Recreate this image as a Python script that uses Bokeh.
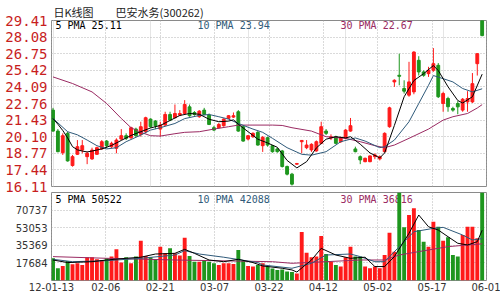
from bokeh.plotting import figure
from bokeh.models import (Range1d, FixedTicker, Label, ColumnDataSource, Grid,
                          CustomJSTickFormatter, PrintfTickFormatter)
from bokeh.layouts import column
from bokeh.embed import file_html
from bokeh.resources import INLINE

# ---------------- data ----------------
opens = [22.23, 20.55, 18.82, 20.37, 17.79, 18.69, 19.03, 18.50, 18.32, 18.69,
         19.12, 19.75, 19.30, 19.17, 19.91, 20.18, 20.02, 20.71, 20.29, 20.50,
         21.51, 21.35, 20.71, 21.03, 21.88, 21.62, 21.83, 21.96, 22.49, 22.04,
         21.70, 22.23, 21.83, 20.82, 20.82, 20.98, 21.57, 21.67, 22.10, 20.90,
         19.91, 20.10, 20.45, 19.38, 20.02, 19.38, 19.12, 18.96, 17.71, 17.10,
         17.90, 19.70, 19.22, 19.04, 18.96, 19.57, 20.55, 19.99, 20.10, 19.70,
         19.99, 20.55, 19.12, 18.50, 18.10, 18.10, 18.50, 18.32, 18.90, 20.90,
         24.49, 25.02, 23.96, 23.43, 23.69, 26.22, 25.29, 25.15, 25.42, 25.82,
         22.76, 23.16, 22.36, 22.76, 22.23, 22.89, 22.89, 25.95, 29.41]
closes = [20.55, 18.90, 20.18, 18.16, 18.50, 19.30, 19.38, 18.77, 19.03, 19.22,
          19.70, 19.38, 19.57, 19.83, 20.18, 19.97, 20.82, 20.18, 20.90, 21.62,
          20.90, 20.97, 21.03, 21.88, 21.43, 21.96, 21.96, 22.68, 21.78, 21.88,
          22.15, 21.88, 21.08, 20.63, 21.08, 21.51, 21.78, 21.78, 20.55, 19.75,
          20.18, 20.37, 19.43, 20.05, 19.43, 18.90, 18.90, 17.71, 17.10, 16.30,
          17.95, 19.80, 19.43, 19.49, 19.70, 20.90, 20.37, 20.10, 19.57, 20.02,
          20.63, 20.98, 18.90, 18.24, 18.37, 18.56, 18.64, 18.50, 20.37, 22.41,
          24.62, 24.94, 23.75, 24.49, 26.88, 25.29, 25.02, 25.42, 25.95, 23.30,
          23.56, 22.50, 22.23, 22.49, 23.10, 23.16, 24.35, 26.75, 28.20]
highs = [22.41, 20.71, 20.37, 20.50, 18.64, 19.83, 19.83, 18.90, 19.22, 19.30,
         19.83, 19.83, 19.70, 19.97, 20.71, 20.37, 20.90, 20.82, 21.30, 21.70,
         21.57, 21.43, 21.30, 22.10, 22.10, 22.68, 22.23, 23.03, 22.68, 22.15,
         22.23, 22.41, 21.96, 20.97, 21.20, 21.57, 21.83, 22.04, 22.23, 20.97,
         20.23, 20.45, 20.55, 20.15, 20.10, 19.43, 19.20, 19.04, 17.79, 17.20,
         18.00, 19.83, 19.83, 19.57, 19.80, 21.30, 20.71, 20.29, 20.18, 20.10,
         20.71, 21.60, 19.30, 18.60, 18.42, 18.60, 18.77, 18.60, 20.45, 22.50,
         24.70, 26.75, 24.62, 26.10, 26.95, 26.55, 25.42, 25.70, 27.20, 26.00,
         23.70, 23.30, 22.50, 22.95, 23.20, 23.75, 25.20, 26.80, 29.41]
lows = [20.50, 18.85, 18.64, 18.10, 17.70, 18.64, 18.77, 17.90, 18.24, 18.64,
        19.04, 19.17, 19.20, 18.77, 19.83, 19.83, 19.91, 20.10, 20.10, 20.37,
        20.82, 20.71, 20.10, 20.97, 21.35, 21.57, 21.75, 21.90, 21.70, 21.78,
        21.62, 21.83, 21.03, 20.55, 20.75, 20.90, 21.50, 21.60, 20.50, 19.70,
        19.80, 20.00, 19.38, 18.88, 19.30, 18.82, 18.82, 17.63, 17.00, 16.19,
        17.85, 18.77, 19.10, 18.88, 18.90, 19.50, 20.23, 19.83, 19.50, 19.60,
        19.90, 20.50, 18.85, 17.90, 18.05, 18.05, 18.30, 18.20, 18.85, 20.82,
        24.09, 24.22, 23.56, 23.30, 23.50, 25.00, 24.90, 24.89, 25.30, 23.20,
        22.10, 22.10, 22.10, 21.90, 22.10, 22.10, 22.80, 25.00, 28.15]
volumes = [22300, 12300, 14600, 19600, 16300, 17300, 15600, 23400, 23400, 21300,
           20600, 22300, 24000, 31300, 18000, 23400, 17300, 24000, 40000, 24600,
           23400, 21300, 34000, 27300, 32300, 27300, 25000, 43000, 24600, 18900,
           18900, 20600, 18900, 17300, 15600, 17300, 17300, 16600, 30600, 19600,
           14600, 14000, 15600, 17300, 14000, 12000, 10500, 11000, 9000, 8500,
           7000, 48700, 28000, 23400, 24000, 44700, 26600, 18900, 15600, 14000,
           23400, 34000, 24000, 24000, 14000, 12300, 14000, 12300, 25600, 48000,
           29000, 98000, 53400, 65800, 72500, 50700, 39000, 34000, 59000, 54000,
           40000, 43400, 25600, 24000, 45700, 54000, 54000, 42400, 96000]

ma5_idx = [0, 1, 2, 3, 4, 5, 6, 7, 8, 10, 12, 14, 16, 18, 20, 22, 24, 26, 28, 30,
           32, 34, 36, 37, 38, 40, 42, 44, 46, 48, 50, 52, 54, 56, 58, 60, 61, 63,
           65, 67, 68, 70, 72, 74, 76, 78, 79, 81, 83, 84, 86, 88]
ma5_val = [21.56, 21.10, 20.60, 20.00, 19.30, 19.05, 18.95, 18.88, 18.95, 19.12,
           19.40, 19.80, 20.20, 20.50, 20.80, 21.00, 21.40, 21.80, 21.96, 21.90,
           21.50, 21.30, 21.35, 21.45, 21.10, 20.50, 19.90, 19.60, 19.25, 18.20,
           17.60, 18.10, 19.20, 19.90, 20.10, 20.00, 20.10, 19.50, 18.80, 18.40,
           18.80, 21.00, 23.30, 24.60, 25.15, 25.80, 25.40, 24.10, 23.00, 22.80,
           23.30, 25.11]
ma10_idx = [0, 3, 5, 7, 9, 11, 13, 15, 18, 20, 22, 25, 27, 30, 32, 34, 36, 38, 41,
            43, 45, 48, 51, 53, 56, 59, 62, 64, 67, 68, 70, 73, 75, 77, 78, 80, 82,
            84, 86, 88]
ma10_val = [21.56, 20.50, 20.25, 19.83, 19.38, 19.12, 19.22, 19.70, 20.23, 20.63,
            20.82, 21.16, 21.55, 21.80, 21.88, 21.70, 21.51, 21.16, 20.71, 20.45,
            19.97, 19.22, 18.69, 18.62, 18.90, 19.70, 20.00, 19.75, 19.22, 19.30,
            19.83, 21.30, 22.76, 24.22, 25.00, 24.75, 24.49, 23.96, 23.69, 23.94]
ma30_idx = [0, 4, 8, 11, 14, 16, 18, 20, 22, 25, 27, 30, 33, 36, 38, 41, 45, 47,
            49, 53, 56, 60, 63, 66, 68, 70, 73, 77, 80, 82, 85, 87, 88]
ma30_val = [24.89, 24.36, 23.69, 22.76, 21.56, 20.82, 20.45, 20.18, 20.15, 20.34,
            20.45, 20.50, 20.71, 20.90, 21.03, 21.03, 21.03, 21.00, 20.82, 20.55,
            20.10, 19.97, 19.70, 19.38, 19.22, 19.43, 19.97, 20.71, 21.43, 21.70,
            21.96, 22.40, 22.67]

vma5_idx = [0, 3, 8, 11, 15, 18, 21, 25, 27, 29, 32, 35, 38, 41, 43, 47, 49, 50,
            53, 55, 58, 61, 64, 66, 68, 70, 73, 75, 77, 79, 81, 83, 85, 87, 88]
vma5_val = [20600, 18000, 18900, 20600, 22300, 23400, 26600, 27300, 31300, 27300,
            20600, 18900, 21300, 18000, 14600, 12300, 10600, 8500, 20600, 32300,
            25600, 22300, 23400, 14000, 14000, 24000, 47400, 65800, 54000, 50700,
            44000, 37400, 35700, 39000, 50522]
vma10_idx = [0, 4, 11, 18, 25, 27, 30, 35, 42, 43, 49, 53, 56, 61, 63, 66, 68, 71,
             74, 78, 80, 84, 86, 88]
vma10_val = [21300, 18900, 19900, 22300, 25600, 30000, 26600, 23400, 18000, 15600,
             12300, 17300, 25600, 26600, 24000, 18900, 18900, 34000, 49000, 52400,
             53400, 45700, 40700, 42088]
vma30_idx = [0, 11, 25, 45, 49, 56, 63, 68, 71, 75, 81, 85, 88]
vma30_val = [24000, 22300, 20600, 18900, 17300, 18900, 20600, 20600, 25600, 29000,
             34000, 35700, 36816]

price_ticks = [16.11, 17.44, 18.77, 20.10, 21.43, 22.76, 24.09, 25.42, 26.75, 28.08, 29.41]
vol_ticks = [17684, 35369, 53053, 70737]
vol_top = 88421
date_labels = ["12-01-13", "02-06", "02-21", "03-07", "03-22", "04-12", "05-02", "05-17", "06-01"]
price_pma = ["5 PMA 25.11", "10 PMA 23.94", "30 PMA 22.67"]
vol_pma = ["5 PMA 50522", "10 PMA 42088", "30 PMA 36816"]
title_text = "日K线图\u3000\u3000巴安水务(300262)"

# ---------------- styling ----------------
RED = "#ff1a1a"
GREEN = "#1e961e"
C5 = "#000000"
C10 = "#2f5a7a"
C30 = "#9a2a62"
GRID = "#b4b4b4"
FRAME = "#8a8a8a"
MONO = "DejaVu Sans Mono"
SANS = "DejaVu Sans"

n = len(closes)
idx = list(range(n))
colors = [RED if c >= o else GREEN for o, c in zip(opens, closes)]
src = ColumnDataSource(dict(
    x=idx, h=highs, l=lows,
    top=[max(o, c) for o, c in zip(opens, closes)],
    bottom=[min(o, c) for o, c in zip(opens, closes)],
    color=colors, vol=volumes))

x_lo, x_hi = -0.31, n - 1 + 0.89
xr = Range1d(x_lo, x_hi)
span = x_hi - x_lo
xt = [x_lo + 0.0005 + k * (span - 0.001) / 8 for k in range(9)]
xticker = FixedTicker(ticks=xt)


def plain_axis(ax, size, font, color, standoff):
    ax.axis_line_color = None
    ax.major_tick_line_color = None
    ax.minor_tick_line_color = None
    ax.major_tick_out = 0
    ax.major_tick_in = 0
    ax.minor_tick_out = 0
    ax.minor_tick_in = 0
    ax.major_label_standoff = standoff
    ax.major_label_text_color = color
    ax.major_label_text_font = font
    ax.major_label_text_font_size = size


# ---------------- price panel ----------------
p1 = figure(width=500, height=195, x_range=xr, y_range=Range1d(price_ticks[0], price_ticks[-1]),
            x_axis_location=None, toolbar_location=None, output_backend="svg",
            title=title_text,
            min_border_left=51, min_border_right=14, min_border_top=18, min_border_bottom=9)
p1.title.text_font = "Noto Sans CJK SC"
p1.title.text_font_size = "11px"
p1.title.text_font_style = "normal"
p1.title.text_color = "#222222"
p1.title.align = "left"
p1.title.offset = 2
p1.title.standoff = 2
p1.outline_line_color = FRAME
p1.outline_line_width = 1
p1.background_fill_color = "white"
p1.border_fill_color = "white"
p1.yaxis.ticker = FixedTicker(ticks=price_ticks)
p1.yaxis.formatter = PrintfTickFormatter(format="%.2f")
plain_axis(p1.yaxis[0], "14px", MONO, "#c81e1e", 4)
p1.ygrid.grid_line_color = GRID
p1.ygrid.grid_line_dash = "1 2"
p1.add_layout(Grid(dimension=0, ticker=xticker, grid_line_color=GRID, grid_line_dash="1 2"))

p1.segment(x0="x", y0="l", x1="x", y1="h", color="color", line_width=1, source=src)
p1.vbar(x="x", width=0.58, top="top", bottom="bottom", fill_color="color",
        line_color="color", line_width=1, source=src)
p1.line(ma30_idx, ma30_val, color=C30, line_width=1)
p1.line(ma10_idx, ma10_val, color=C10, line_width=1)
p1.line(ma5_idx, ma5_val, color=C5, line_width=1)

for txt, xpos, col in zip(price_pma, [4, 146, 289], [C5, C10, C30]):
    p1.add_layout(Label(x=xpos, y=161, x_units="screen", y_units="screen", text=txt,
                        text_font=MONO, text_font_size="10px", text_color=col,
                        text_baseline="middle"))

# ---------------- volume panel ----------------
p2 = figure(width=500, height=108, x_range=xr, y_range=Range1d(0, vol_top),
            toolbar_location=None, output_backend="svg", margin=(-3, 0, 0, 0),
            min_border_left=51, min_border_right=14, min_border_top=0, min_border_bottom=20)
p2.outline_line_color = FRAME
p2.outline_line_width = 1
p2.border_fill_color = None
p2.border_fill_alpha = 0
p2.background_fill_color = "white"
p2.yaxis.ticker = FixedTicker(ticks=vol_ticks)
p2.yaxis.formatter = PrintfTickFormatter(format="%d")
plain_axis(p2.yaxis[0], "10px", SANS, "#333333", 4)
p2.xaxis.ticker = xticker
p2.xaxis.formatter = CustomJSTickFormatter(args=dict(labels=date_labels),
                                           code="return labels[index];")
plain_axis(p2.xaxis[0], "10px", SANS, "#333333", 2)
p2.ygrid.grid_line_color = GRID
p2.ygrid.grid_line_dash = "1 2"
p2.xgrid.grid_line_color = GRID
p2.xgrid.grid_line_dash = "1 2"

for txt, xpos, col in zip(vol_pma, [4, 146, 289], [C5, C10, C30]):
    p2.add_layout(Label(x=xpos, y=81, x_units="screen", y_units="screen", text=txt,
                        text_font=MONO, text_font_size="10px", text_color=col,
                        text_baseline="middle", level="underlay"))

p2.vbar(x="x", width=0.8, top="vol", bottom=0, fill_color="color", line_color=None, source=src)
p2.line(vma30_idx, vma30_val, color=C30, line_width=1)
p2.line(vma10_idx, vma10_val, color=C10, line_width=1)
p2.line(vma5_idx, vma5_val, color=C5, line_width=1)

layout = column(p1, p2, spacing=0)
open("out.html", "w").write(file_html(layout, INLINE))
